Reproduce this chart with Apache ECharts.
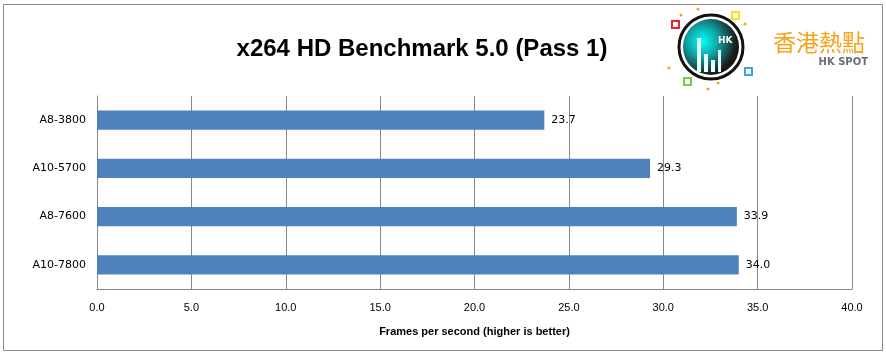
<!DOCTYPE html>
<html><head><meta charset="utf-8">
<script src="https://cdn.jsdelivr.net/npm/echarts@6/dist/echarts.min.js"></script>
<style>html,body{margin:0;padding:0;background:#fff}#c{width:886px;height:355px}</style>
</head><body><div id="c"></div>
<script>
const categories = ['A8-3800', 'A10-5700', 'A8-7600', 'A10-7800'];
const fps = [23.7, 29.3, 33.9, 34.0];
const titleText = 'x264 HD Benchmark 5.0 (Pass 1)';
const axisName = 'Frames per second (higher is better)';
const logoCn = '香港熱點';
const logoEn = 'HK SPOT';

const chart = echarts.init(document.getElementById('c'));
chart.setOption({
  animation: false,
  backgroundColor: '#fff',
  title: {
    text: titleText, left: 417, top: 32, textAlign: 'center',
    textStyle: { fontFamily: 'Liberation Sans', fontWeight: 'bold', fontSize: 24, color: '#000' }
  },
  grid: { left: 97, right: 34, top: 96, bottom: 66 },
  xAxis: {
    type: 'value', min: 0, max: 40, interval: 5,
    axisLine: { show: true, lineStyle: { color: '#868686' } },
    axisTick: { show: false },
    splitLine: { show: true, lineStyle: { color: '#868686', width: 1 } },
    axisLabel: { formatter: v => v.toFixed(1), color: '#000', fontSize: 11, margin: 13,
      fontFamily: 'Liberation Sans Narrow, Liberation Sans' },
    name: axisName, nameLocation: 'middle', nameGap: 37,
    nameTextStyle: { color: '#000', fontSize: 11, fontWeight: 'bold', fontFamily: 'Liberation Sans Narrow, Liberation Sans' }
  },
  yAxis: {
    type: 'category', data: categories, inverse: true,
    axisLine: { show: true, lineStyle: { color: '#868686' } },
    axisTick: { show: false },
    axisLabel: { color: '#000', fontSize: 11, margin: 11, fontFamily: 'DejaVu Sans' }
  },
  series: [{
    type: 'bar', data: fps, barCategoryGap: '60%',
    itemStyle: { color: '#4F81BD' },
    label: { show: true, position: 'right', distance: 7, color: '#000', fontSize: 11,
      fontFamily: 'DejaVu Sans', formatter: p => p.value.toFixed(1) }
  }],
  graphic: [
    { type: 'rect', shape: { x: 3.5, y: 4.5, width: 879, height: 346 }, style: { fill: 'none', stroke: '#8a8a8a', lineWidth: 1 }, silent: true },
    { type: 'circle', shape: { cx: 711, cy: 47, r: 32 }, style: { fill: 'none', stroke: '#111', lineWidth: 3 } },
    { type: 'circle', shape: { cx: 711, cy: 47, r: 28 }, style: { fill: {
        type: 'radial', x: 0.35, y: 0.4, r: 0.75,
        colorStops: [{ offset: 0, color: '#00ffff' }, { offset: 0.35, color: '#10a8a8' }, { offset: 0.8, color: '#1a1a1a' }, { offset: 1, color: '#111' }] } } },
    { type: 'rect', shape: { x: 697, y: 38, width: 4, height: 34 }, style: { fill: '#e8ffff' } },
    { type: 'rect', shape: { x: 704, y: 54, width: 4, height: 18 }, style: { fill: '#e8ffff' } },
    { type: 'rect', shape: { x: 711, y: 60, width: 4, height: 12 }, style: { fill: '#e8ffff' } },
    { type: 'rect', shape: { x: 718, y: 50, width: 3, height: 22 }, style: { fill: '#e8ffff' } },
    { type: 'text', style: { text: 'HK', x: 718, y: 36, fill: '#fff', font: 'bold 9px DejaVu Sans' } },
    { type: 'rect', shape: { x: 672, y: 21, width: 7, height: 7 }, style: { fill: '#fff', stroke: '#e8222e', lineWidth: 2 } },
    { type: 'rect', shape: { x: 732, y: 12, width: 7, height: 7 }, style: { fill: '#fff', stroke: '#f5e21b', lineWidth: 2 } },
    { type: 'rect', shape: { x: 745, y: 68, width: 7, height: 7 }, style: { fill: '#fff', stroke: '#3aa0f0', lineWidth: 2 } },
    { type: 'rect', shape: { x: 684, y: 78, width: 7, height: 7 }, style: { fill: '#fff', stroke: '#7ac943', lineWidth: 2 } },
    { type: 'circle', shape: { cx: 681, cy: 15, r: 1.5 }, style: { fill: '#f7a21b' } },
    { type: 'circle', shape: { cx: 698, cy: 9, r: 1.5 }, style: { fill: '#f7a21b' } },
    { type: 'circle', shape: { cx: 745, cy: 24, r: 1.5 }, style: { fill: '#f7a21b' } },
    { type: 'circle', shape: { cx: 669, cy: 68, r: 1.5 }, style: { fill: '#f7a21b' } },
    { type: 'circle', shape: { cx: 718, cy: 83, r: 1.5 }, style: { fill: '#f7a21b' } },
    { type: 'circle', shape: { cx: 708, cy: 89, r: 1.5 }, style: { fill: '#f7a21b' } },
    { type: 'text', style: { text: logoCn, x: 773, y: 31, fill: '#f7a21b', font: '23px "Noto Sans CJK TC"' } },
    { type: 'text', style: { text: logoEn, x: 868, y: 57, textAlign: 'right', fill: '#6d6d6d', font: 'bold 10px "DejaVu Sans"' } }
  ]
});
</script></body></html>
